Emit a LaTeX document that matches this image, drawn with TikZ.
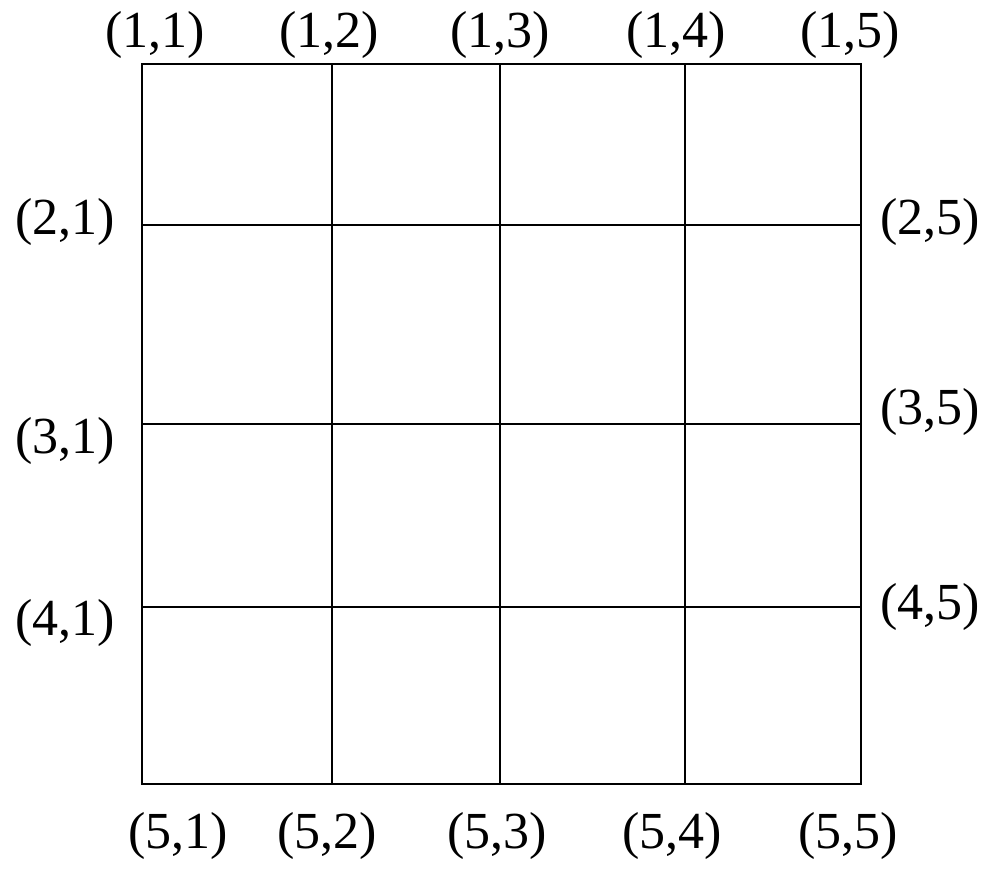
\documentclass[tikz,border=0pt]{standalone}
\usepackage{fontspec}
\setmainfont{Liberation Serif}
\usepackage{tikz}

\begin{document}
\begin{tikzpicture}[
  x=0.025cm, y=-0.025cm,
  gridline/.style={line width=1.4pt, line cap=rect},
  idx/.style={font=\fontsize{37}{44}\selectfont, inner sep=0pt}
]
\useasboundingbox (0,0) rectangle (998,869);

% --- Grid: column and row lines ---
\foreach \gx in {142,332,500,685,861}
  \draw[gridline] (\gx,64) -- (\gx,784);
\foreach \gy in {64,225,424,607,784}
  \draw[gridline] (142,\gy) -- (861,\gy);

% --- Top labels ---
\node[idx] (t1) at (155,35) {(1,1)};
\node[idx] (t2) at (329,35) {(1,2)};
\node[idx] (t3) at (500,35) {(1,3)};
\node[idx] (t4) at (676,35) {(1,4)};
\node[idx] (t5) at (850,35) {(1,5)};

% --- Left labels ---
\node[idx] (l2) at (65,222) {(2,1)};
\node[idx] (l3) at (65,441) {(3,1)};
\node[idx] (l4) at (65,623) {(4,1)};

% --- Right labels ---
\node[idx] (r2) at (930,222) {(2,5)};
\node[idx] (r3) at (930,412) {(3,5)};
\node[idx] (r4) at (930,607) {(4,5)};

% --- Bottom labels ---
\node[idx] (b1) at (178,836) {(5,1)};
\node[idx] (b2) at (327,836) {(5,2)};
\node[idx] (b3) at (497,836) {(5,3)};
\node[idx] (b4) at (672,836) {(5,4)};
\node[idx] (b5) at (848,836) {(5,5)};

\end{tikzpicture}
\end{document}
